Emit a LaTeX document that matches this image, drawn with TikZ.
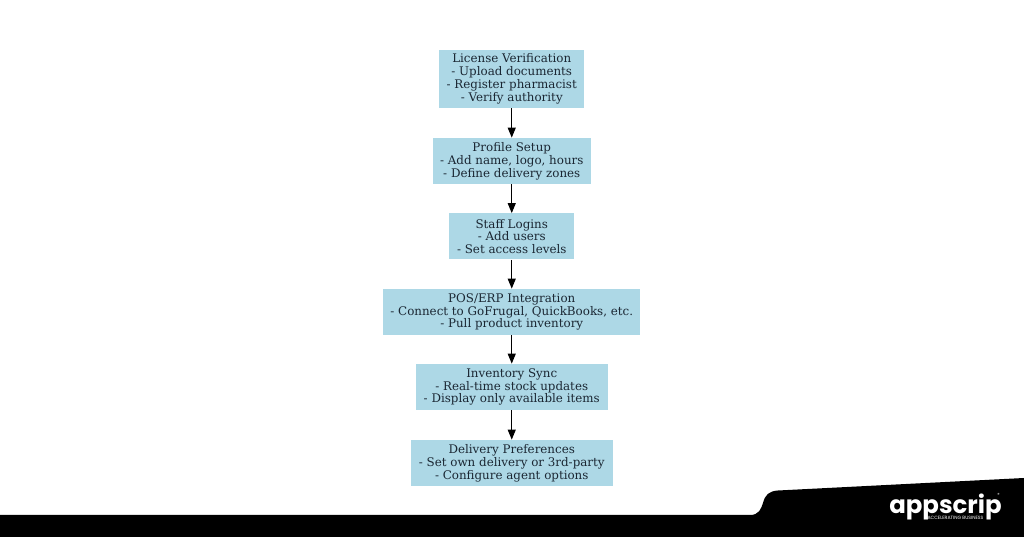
\documentclass[tikz,border=0pt]{standalone}
\usepackage{fontspec}
\setmainfont{DejaVu Serif}
\newfontfamily\logofont{Poppins}
\usetikzlibrary{arrows.meta}
\definecolor{boxBlue}{HTML}{ADD8E6}
\definecolor{inkDark}{HTML}{1B2733}

\begin{document}
\begin{tikzpicture}[
    arr/.style={line width=.6pt, draw=black, -{Triangle[length=2mm,width=1.6mm]}},
    box/.style={
        rectangle,
        minimum height=.92cm,
        inner sep=0,
        align=center,
        fill=boxBlue,
        text=inkDark,
        font=\fontsize{6.76}{7.3}\selectfont,
      },
  ]
  \useasboundingbox (0,0) rectangle (20.48,10.74);

  % footer band
  \fill[black] (0,0) -- (0,.44) -- (15.0,.44)
  .. controls (15.18,.44) and (15.22,.56) .. (15.26,.68)
  .. controls (15.30,.84) and (15.38,.92) .. (15.56,.93)
  -- (20.48,1.18) -- (20.48,0) -- cycle;

  \node[box, minimum width=2.90cm, minimum height=1.16cm] (license) at (10.235,9.16)
    {License Verification\\- Upload documents\\- Register pharmacist\\- Verify authority};
  \node[box, minimum width=3.16cm] (profile) at (10.235,7.52)
    {Profile Setup\\- Add name, logo, hours\\- Define delivery zones};
  \node[box, minimum width=2.50cm] (staff) at (10.235,6.01)
    {Staff Logins\\- Add users\\- Set access levels};
  \node[box, minimum width=5.14cm] (pos) at (10.235,4.50)
    {POS/ERP Integration\\- Connect to GoFrugal, QuickBooks, etc.\\- Pull product inventory};
  \node[box, minimum width=3.85cm] (sync) at (10.235,3.00)
    {Inventory Sync\\- Real-time stock updates\\- Display only available items};
  \node[box, minimum width=4.04cm] (delivery) at (10.235,1.48)
    {Delivery Preferences\\- Set own delivery or 3rd-party\\- Configure agent options};

  \draw[arr] (license) -- (profile);
  \draw[arr] (profile) -- (staff);
  \draw[arr] (staff) -- (pos);
  \draw[arr] (pos) -- (sync);
  \draw[arr] (sync) -- (delivery);

  \node[text=white, inner sep=0, font=\logofont\bfseries\fontsize{13.9}{15}\selectfont] (logo) at (18.91,.61) {appscrip};
  \node[text=white, inner sep=0, font=\logofont\fontsize{2.65}{3}\selectfont] (tagline) at (19.11,.38) {ACCELERATING BUSINESS};
  \node[text=white, inner sep=0, font=\logofont\fontsize{2.5}{3}\selectfont] (regmark) at (19.97,.85) {®};
\end{tikzpicture}
\end{document}
